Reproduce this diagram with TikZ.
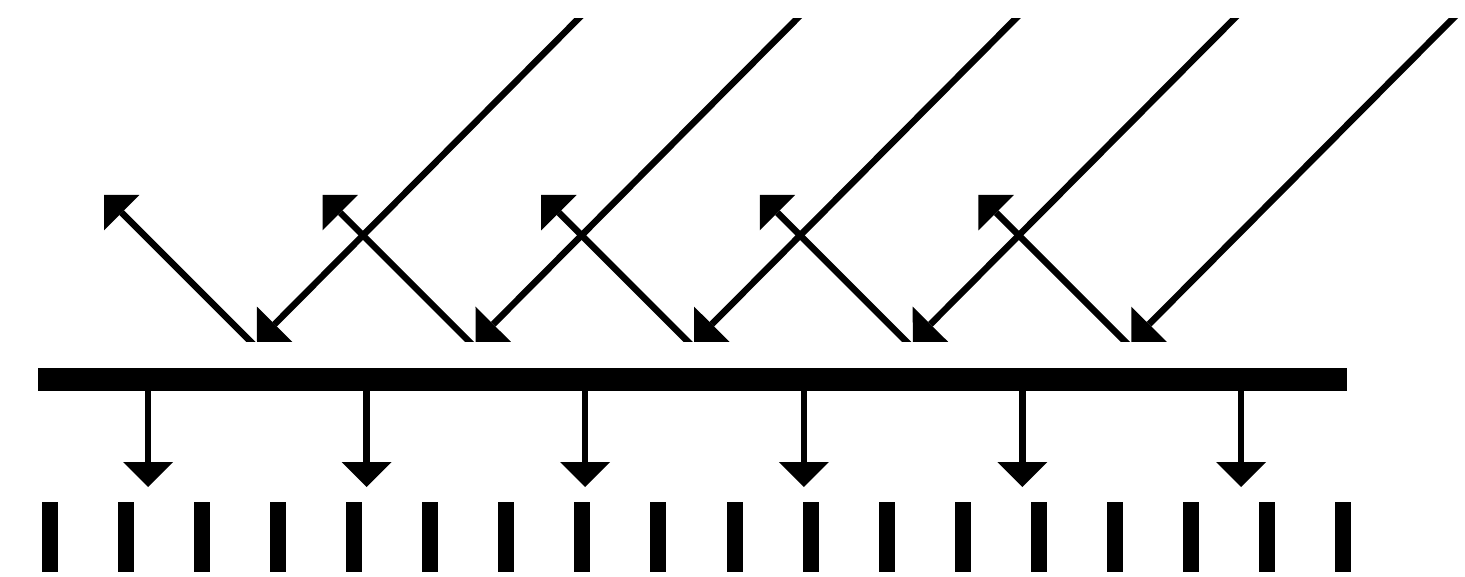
\documentclass[tikz,border=0pt]{standalone}
\usetikzlibrary{arrows.meta}
\begin{document}
\begin{tikzpicture}
  [x=1pt, y=-1pt,
   ray/.style={line width=6.5pt, -{Triangle[length=25pt, width=50pt, line width=0pt]}}]
  \useasboundingbox (0,0) rectangle (1465,577);
  \begin{scope}
    \clip (0,19) rectangle (1465,342);
    \foreach \i in {0, ..., 4}{
      \coordinate (in\i) at (584+218.6*\i, 13);
      \coordinate (hit\i) at (257+218.6*\i, 342);
      \coordinate (out\i) at (257+218.6*\i, 348);
      \coordinate (ref\i) at (104+218.6*\i, 195);
      \draw [ray] (in\i) to (hit\i);
      \draw [ray] (out\i) to (ref\i);
    }
  \end{scope}
  \coordinate (barL) at (38, 368);
  \coordinate (barR) at (1347, 391);
  \fill (barL) rectangle (barR);
  \foreach \i in {0, ..., 5}{
    \coordinate (down\i) at (148+218.6*\i, 391);
    \coordinate (tip\i) at (148+218.6*\i, 487);
    \draw [ray] (down\i) to (tip\i);
  }
  \foreach \j in {0, ..., 17}
    \fill (42+76.06*\j, 502) rectangle +(16, 70);
\end{tikzpicture}
\end{document}
